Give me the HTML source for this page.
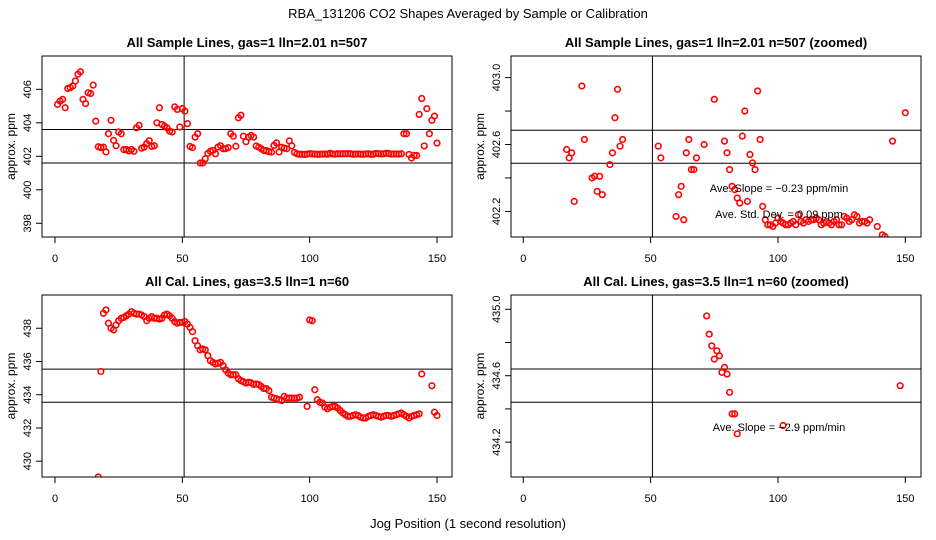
<!DOCTYPE html>
<html><head><meta charset="utf-8"><style>
html,body{margin:0;padding:0;background:#fff;width:936px;height:540px;overflow:hidden;}
svg{display:block;font-family:"Liberation Sans",sans-serif;overflow:hidden;}
</style></head><body>
<svg id="chart" width="936" height="540" viewBox="0 0 936 540" xmlns="http://www.w3.org/2000/svg">
<rect width="936" height="540" fill="#fff"/>
<text x="468" y="18" text-anchor="middle" font-size="13">RBA_131206  CO2 Shapes Averaged by Sample or Calibration</text>
<text x="468" y="528" text-anchor="middle" font-size="13">Jog Position (1 second resolution)</text>
</svg>
<script>
const sampleX = [1,2,3,4,5,6,7,8,9,10,11,12,13,14,15,16,17,18,19,20,21,22,23,24,25,26,27,28,29,30,31,32,33,34,35,36,37,38,39,40,41,42,43,44,45,46,47,48,49,50,51,52,53,54,55,56,57,58,59,60,61,62,63,64,65,66,67,68,69,70,71,72,73,74,75,76,77,78,79,80,81,82,83,84,85,86,87,88,89,90,91,92,93,94,95,96,97,98,99,100,101,102,103,104,105,106,107,108,109,110,111,112,113,114,115,116,117,118,119,120,121,122,123,124,125,126,127,128,129,130,131,132,133,134,135,136,137,138,139,140,141,142,143,144,145,146,147,148,149,150];
const sampleY = [405.1,405.3,405.4,404.9,406.05,406.1,406.2,406.5,406.9,407.05,405.4,405.15,405.8,405.75,406.25,404.1,402.57,402.52,402.55,402.26,403.35,404.15,402.95,402.63,403.45,403.35,402.4,402.41,402.32,402.41,402.3,403.7,403.85,402.48,402.55,402.76,402.93,402.59,402.63,404.0,404.9,403.9,403.8,403.7,403.5,403.45,404.95,404.8,403.75,404.85,404.7,403.95,402.59,402.52,403.15,403.35,401.6,401.6,401.85,402.17,402.3,402.35,402.15,402.55,402.63,402.45,402.45,402.52,403.35,403.2,402.6,404.3,404.45,403.2,402.87,403.15,403.25,403.15,402.62,402.55,402.45,402.35,402.33,402.28,402.25,402.65,402.8,402.26,402.54,402.49,402.45,402.92,402.63,402.23,402.15,402.12,402.12,402.11,402.13,402.16,402.14,402.13,402.12,402.12,402.13,402.14,402.12,402.18,402.14,402.13,402.15,402.14,402.15,402.15,402.16,402.15,402.12,402.13,402.14,402.13,402.12,402.14,402.15,402.12,402.12,402.17,402.16,402.14,402.15,402.18,402.17,402.13,402.14,402.14,402.13,402.15,403.35,403.35,402.11,401.9,402.06,402.05,404.5,405.45,402.62,404.85,403.35,404.15,404.4,402.79];
const calX = [17,18,19,20,21,22,23,24,25,26,27,28,29,30,31,32,33,34,35,36,37,38,39,40,41,42,43,44,45,46,47,48,49,50,51,52,53,54,55,56,57,58,59,60,61,62,63,64,65,66,67,68,69,70,71,72,73,74,75,76,77,78,79,80,81,82,83,84,85,86,87,88,89,90,91,92,93,94,95,96,99,100,101,102,103,104,105,106,107,108,109,110,111,112,113,114,115,116,117,118,119,120,121,122,123,124,125,126,127,128,129,130,131,132,133,134,135,136,137,138,139,140,141,142,143,144,148,149,150];
const calY = [429.05,435.4,438.9,439.1,438.3,438,437.9,438.2,438.45,438.6,438.65,438.75,438.85,439,438.9,438.85,438.85,438.8,438.7,438.45,438.6,438.7,438.6,438.6,438.55,438.6,438.8,438.85,438.75,438.6,438.4,438.3,438.35,438.35,438.4,438.25,438.05,437.8,437.25,436.95,436.7,436.75,436.7,436.35,436.05,435.95,435.85,435.9,435.95,435.75,435.5,435.3,435.2,435.2,435.2,434.96,434.85,434.78,434.7,434.75,434.72,434.62,434.65,434.61,434.5,434.37,434.37,434.25,433.85,433.8,433.75,433.7,433.65,433.9,433.8,433.8,433.8,433.8,433.8,433.85,433.3,438.5,438.45,434.3,433.7,433.55,433.5,433.25,433.15,433.25,433.3,433.3,433.2,433.05,432.9,432.8,432.7,432.7,432.75,432.8,432.75,432.65,432.6,432.6,432.7,432.75,432.8,432.75,432.7,432.65,432.7,432.75,432.75,432.7,432.75,432.8,432.85,432.9,432.8,432.7,432.6,432.7,432.75,432.8,432.85,435.25,434.54,432.95,432.75];
const xTicks = [0,50,100,150];
const NS = "http://www.w3.org/2000/svg";
const svg = document.getElementById("chart");
function mk(tag, attrs, parent){const e=document.createElementNS(NS,tag);for(const k in attrs)e.setAttribute(k,attrs[k]);(parent||svg).appendChild(e);return e;}
const panels = [
 {id:"sample-all",title:"All Sample Lines, gas=1 lln=2.01 n=507",bx:42,bw:410,by:56,bh:181,x0:55,ymin:397.18,ymax:407.99,yticks:[398,400,402,404,406],ylabels:[398,400,402,404,406],dec:0,hl:[403.6,401.6],vl:50.7,xs:sampleX,ys:sampleY,notes:[]},
 {id:"sample-zoomed",title:"All Sample Lines, gas=1 lln=2.01 n=507 (zoomed)",bx:511,bw:410,by:56,bh:181,x0:523.3,ymin:402.047,ymax:403.129,yticks:[402.2,402.4,402.6,402.8,403.0],ylabels:[402.2,402.6,403.0],dec:1,hl:[402.685,402.488],vl:50.7,xs:sampleX,ys:sampleY,notes:[["Ave. Slope =  \u22120.23  ppm/min",779,192],["Ave. Std. Dev. =  0.09  ppm",779,218]]},
 {id:"cal-all",title:"All Cal. Lines, gas=3.5 lln=1 n=60",bx:42,bw:410,by:295,bh:182,x0:55,ymin:429.05,ymax:440.0,yticks:[430,432,434,436,438],ylabels:[430,432,434,436,438],dec:0,hl:[435.54,433.55],vl:50.7,xs:calX,ys:calY,notes:[]},
 {id:"cal-zoomed",title:"All Cal. Lines, gas=3.5 lln=1 n=60 (zoomed)",bx:511,bw:410,by:295,bh:182,x0:523.3,ymin:433.99,ymax:435.086,yticks:[434.2,434.4,434.6,434.8,435.0],ylabels:[434.2,434.6,435.0],dec:1,hl:[434.64,434.44],vl:50.7,xs:calX,ys:calY,notes:[["Ave. Slope =  \u22122.9  ppm/min",779,431]]}
];
panels.forEach((p,i)=>{
 const g=mk("g",{});
 
 
 const sx=v=>p.x0+v*382/150;
 const sy=v=>p.by+p.bh-(v-p.ymin)/(p.ymax-p.ymin)*p.bh;
 const clipId="clip"+i;
 const cp=mk("clipPath",{id:clipId},g);
 mk("rect",{x:p.bx,y:p.by,width:p.bw,height:p.bh},cp);
 const t=mk("text",{x:p.bx+p.bw/2,y:p.by-9,"text-anchor":"middle","font-size":"13","font-weight":"bold"},g);
 t.textContent=p.title;
 
 
 const yl=mk("text",{x:0,y:0,"text-anchor":"middle","font-size":"12",transform:`translate(${p.bx-27},${p.by+p.bh/2}) rotate(-90)`},g);
 yl.textContent="approx. ppm";
 
 
 xTicks.forEach(v=>{
  const x=sx(v);
  const tk=mk("line",{x1:x,x2:x,y1:p.by+p.bh,y2:p.by+p.bh+6,stroke:"#000"},g);
  
  
  const tl=mk("text",{x:x,y:p.by+p.bh+25,"text-anchor":"middle","font-size":"11"},g);
  tl.textContent=v;
  
  
 });
 p.yticks.forEach(v=>{
  const y=sy(v);
  const tk=mk("line",{x1:p.bx-6,x2:p.bx,y1:y,y2:y,stroke:"#000"},g);
  
  
 });
 p.ylabels.forEach(v=>{
  const y=sy(v);
  const tl=mk("text",{x:0,y:0,"text-anchor":"middle","font-size":"11",transform:`translate(${p.bx-11},${y}) rotate(-90)`},g);
  tl.textContent=v.toFixed(p.dec);
  
  
 });
 p.hl.forEach(v=>{
  const l=mk("line",{x1:p.bx,x2:p.bx+p.bw,y1:sy(v),y2:sy(v),stroke:"#000"},g);
  
  
 });
 const vl=mk("line",{x1:sx(p.vl),x2:sx(p.vl),y1:p.by,y2:p.by+p.bh,stroke:"#000"},g);
 
 
 const pg=mk("g",{"clip-path":`url(#${clipId})`},g);
 
 
 p.xs.forEach((xv,j)=>{
  const c=mk("circle",{cx:sx(xv),cy:sy(p.ys[j]),r:2.8,fill:"none",stroke:"#f00","stroke-width":"1.6"},pg);
  
  
 });
 p.notes.forEach(n=>{
  const a=mk("text",{x:n[1],y:n[2],"text-anchor":"middle","font-size":"11"},g);
  a.textContent=n[0];
  
  
 });
 const box=mk("rect",{x:p.bx,y:p.by,width:p.bw,height:p.bh,fill:"none",stroke:"#000"},g);
 
 
});
</script>
</body></html>
